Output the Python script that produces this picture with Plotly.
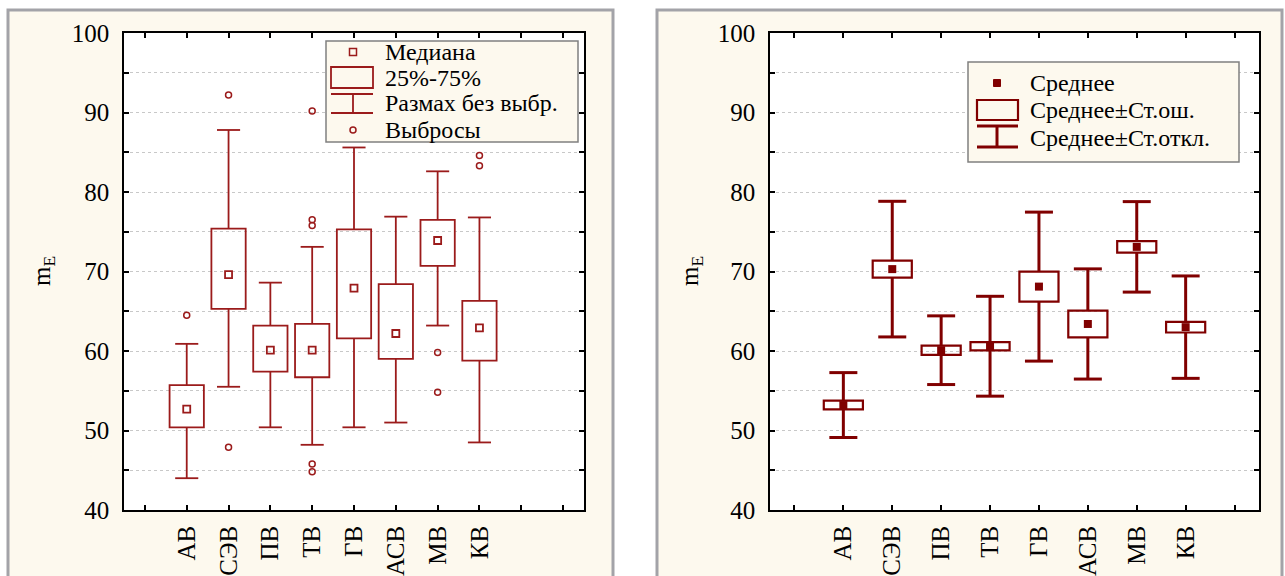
import plotly.graph_objects as go

# ---------------- data ----------------
cats = ['АВ', 'СЭВ', 'ПВ', 'ТВ', 'ГВ', 'АСВ', 'МВ', 'КВ']

# left panel: box plot (median, quartiles, range without outliers, outliers)
whisk_lo = [44.0, 55.5, 50.4, 48.2, 50.4, 51.0, 63.2, 48.5]
q1 = [50.4, 65.3, 57.4, 56.7, 61.6, 59.0, 70.7, 58.8]
median = [52.7, 69.6, 60.1, 60.1, 67.9, 62.2, 73.9, 62.9]
q3 = [55.7, 75.4, 63.2, 63.4, 75.3, 68.4, 76.5, 66.3]
whisk_hi = [60.9, 87.8, 68.6, 73.1, 85.6, 76.9, 82.6, 76.8]
outlier_cat = ['АВ', 'СЭВ', 'СЭВ', 'ТВ', 'ТВ', 'ТВ', 'ТВ', 'ТВ', 'МВ', 'МВ', 'КВ', 'КВ']
outlier_val = [64.5, 92.2, 47.9, 90.2, 76.5, 75.8, 45.8, 44.8, 59.8, 54.8, 84.6, 83.3]

# right panel: mean, standard error, standard deviation
mean = [53.2, 70.3, 60.1, 60.6, 68.1, 63.4, 73.1, 63.0]
se = [0.55, 1.07, 0.58, 0.51, 1.89, 1.68, 0.72, 0.67]
sd = [4.08, 8.53, 4.32, 6.28, 9.37, 6.93, 5.69, 6.44]

y_ticks = [40, 50, 60, 70, 80, 90, 100]

# ---------------- style ----------------
W, H = 1285, 576
RED1 = '#9B1B1B'
RED2 = '#800000'
CREAM = '#FDF9EE'
FONT = 'Liberation Serif, Times New Roman, serif'


def PX(x):
    return x / W


def PY(y):
    return 1 - y / H


xi = list(range(len(cats)))
out_x = [cats.index(c) for c in outlier_cat]


def vsegs(lo, hi):
    xs, ys = [], []
    for i, (a, b) in enumerate(zip(lo, hi)):
        xs += [i, i, None]
        ys += [a, b, None]
    return xs, ys


fig = go.Figure()

# ---- left panel ----
fig.add_trace(go.Bar(x=xi, y=[b - a for a, b in zip(q1, q3)], base=q1, width=0.82,
                     marker=dict(color='rgba(0,0,0,0)', line=dict(color=RED1, width=1.8)),
                     xaxis='x', yaxis='y', hoverinfo='skip'))
wx, wy = vsegs(q3, whisk_hi)
fig.add_trace(go.Scatter(x=wx, y=wy, mode='lines', line=dict(color=RED1, width=1.8),
                         xaxis='x', yaxis='y', hoverinfo='skip'))
wx, wy = vsegs(whisk_lo, q1)
fig.add_trace(go.Scatter(x=wx, y=wy, mode='lines', line=dict(color=RED1, width=1.8),
                         xaxis='x', yaxis='y', hoverinfo='skip'))
fig.add_trace(go.Scatter(x=xi + xi, y=whisk_hi + whisk_lo, mode='markers',
                         marker=dict(symbol='line-ew', size=16.5, line=dict(color=RED1, width=1.8)),
                         xaxis='x', yaxis='y', hoverinfo='skip'))
fig.add_trace(go.Scatter(x=xi, y=median, mode='markers',
                         marker=dict(symbol='square-open', size=7, color=RED1, line=dict(color=RED1, width=1.8)),
                         xaxis='x', yaxis='y'))
fig.add_trace(go.Scatter(x=out_x, y=outlier_val, mode='markers',
                         marker=dict(symbol='circle-open', size=6, color=RED1, line=dict(color=RED1, width=1.5)),
                         xaxis='x', yaxis='y'))

# ---- right panel ----
se_lo = [m - s for m, s in zip(mean, se)]
se_hi = [m + s for m, s in zip(mean, se)]
sd_lo = [m - s for m, s in zip(mean, sd)]
sd_hi = [m + s for m, s in zip(mean, sd)]
fig.add_trace(go.Bar(x=xi, y=[2 * s for s in se], base=se_lo, width=0.8,
                     marker=dict(color='rgba(0,0,0,0)', line=dict(color=RED2, width=2.2)),
                     xaxis='x2', yaxis='y2', hoverinfo='skip'))
wx, wy = vsegs(se_hi, sd_hi)
fig.add_trace(go.Scatter(x=wx, y=wy, mode='lines', line=dict(color=RED2, width=3),
                         xaxis='x2', yaxis='y2', hoverinfo='skip'))
wx, wy = vsegs(sd_lo, se_lo)
fig.add_trace(go.Scatter(x=wx, y=wy, mode='lines', line=dict(color=RED2, width=3),
                         xaxis='x2', yaxis='y2', hoverinfo='skip'))
fig.add_trace(go.Scatter(x=xi + xi, y=sd_hi + sd_lo, mode='markers',
                         marker=dict(symbol='line-ew', size=20, line=dict(color=RED2, width=3)),
                         xaxis='x2', yaxis='y2', hoverinfo='skip'))
fig.add_trace(go.Scatter(x=xi, y=mean, mode='markers',
                         marker=dict(symbol='square', size=8, color=RED2),
                         xaxis='x2', yaxis='y2'))

# ---------------- axes ----------------
tickfont = dict(family=FONT, size=25, color='black')
common_x = dict(ticks='inside', ticklen=5, tickwidth=1.5, tickcolor='black',
                showline=True, linecolor='black', linewidth=1.6, mirror='ticks',
                showgrid=False, zeroline=False, tickangle=-90, tickfont=tickfont,
                tickmode='array', tickvals=xi, ticktext=cats, ticklabelstandoff=4,
                automargin=False)
common_y = dict(range=[40, 100], tickmode='array', tickvals=y_ticks,
                ticks='inside', ticklen=5, tickwidth=1.5, tickcolor='black',
                showline=True, linecolor='black', linewidth=1.6, mirror='ticks',
                showgrid=True, gridcolor='#c8c8c8', griddash='dot', gridwidth=1,
                zeroline=False, tickfont=tickfont, ticklabelstandoff=8, automargin=False,
                minor=dict(dtick=5, tick0=40, ticks='inside', ticklen=5, tickwidth=1.5,
                           tickcolor='black', showgrid=True, gridcolor='#c8c8c8', griddash='dot'))

fig.update_layout(
    width=W, height=H, margin=dict(l=0, r=0, t=0, b=0, pad=0), autosize=False,
    paper_bgcolor='white', plot_bgcolor='white', showlegend=False,
    font=dict(family=FONT, color='black'),
    xaxis=dict(domain=[PX(124), PX(584)], range=[-1.5, 9.5], anchor='y',
               minor=dict(tickmode='array', tickvals=[-1, 8, 9], ticks='inside', ticklen=5,
                          tickwidth=1.5, tickcolor='black', showgrid=False),
               **common_x),
    yaxis=dict(domain=[PY(510), PY(33)], anchor='x', **common_y),
    xaxis2=dict(domain=[PX(770), PX(1259)], range=[-1.5, 8.5], anchor='y2',
                minor=dict(tickmode='array', tickvals=[-1, 8], ticks='inside', ticklen=5,
                           tickwidth=1.5, tickcolor='black', showgrid=False),
                **common_x),
    yaxis2=dict(domain=[PY(510), PY(33)], anchor='x2', **common_y),
)

# ---------------- panels ----------------
shapes = []
for x0, x1 in [(8, 613), (657, 1282)]:
    shapes.append(dict(type='rect', xref='paper', yref='paper', x0=PX(x0), x1=PX(x1),
                       y0=PY(590), y1=PY(10), fillcolor=CREAM,
                       line=dict(color='#a3a3a8', width=3), layer='below'))
for x0, x1 in [(124, 584), (770, 1259)]:
    shapes.append(dict(type='rect', xref='paper', yref='paper', x0=PX(x0), x1=PX(x1),
                       y0=PY(510), y1=PY(33), fillcolor='white', line=dict(width=0), layer='below'))


def prect(x0, y0, x1, y1, color, width, fill='rgba(0,0,0,0)'):
    return dict(type='rect', xref='paper', yref='paper', x0=PX(x0), x1=PX(x1),
                y0=PY(y1), y1=PY(y0), fillcolor=fill, line=dict(color=color, width=width), layer='above')


def pline(x0, y0, x1, y1, color, width):
    return dict(type='line', xref='paper', yref='paper', x0=PX(x0), x1=PX(x1),
                y0=PY(y0), y1=PY(y1), line=dict(color=color, width=width), layer='above')


# left legend
shapes.append(prect(326, 41, 578, 142, '#808080', 1.5, CREAM))
shapes.append(prect(349.5, 48.5, 356.5, 55.5, RED1, 1.5))
shapes.append(prect(331, 67, 373, 88, RED1, 1.8))
shapes.append(pline(331, 94, 373, 94, RED1, 1.8))
shapes.append(pline(331, 113, 373, 113, RED1, 1.8))
shapes.append(pline(353, 94, 353, 113, RED1, 1.8))
shapes.append(dict(type='circle', xref='paper', yref='paper', x0=PX(350), x1=PX(356),
                   y0=PY(133), y1=PY(127), line=dict(color=RED1, width=1.5), layer='above'))
# right legend
shapes.append(prect(968, 62, 1239, 162, '#808080', 1.5, CREAM))
shapes.append(prect(993.5, 79.5, 1000.5, 86.5, RED2, 1, RED2))
shapes.append(prect(977, 100, 1018, 120, RED2, 2.2))
shapes.append(pline(977, 126, 1018, 126, RED2, 3))
shapes.append(pline(977, 147, 1018, 147, RED2, 3))
shapes.append(pline(997, 126, 997, 147, RED2, 3))
fig.update_layout(shapes=shapes)

annotations = []
for txt, y in [('Медиана', 52), ('25%-75%', 78), ('Размах без выбр.', 103), ('Выбросы', 130)]:
    annotations.append(dict(xref='paper', yref='paper', x=PX(383), y=PY(y), text=txt,
                            showarrow=False, xanchor='left', yanchor='middle',
                            font=dict(family=FONT, size=24, color='black')))
for txt, y in [('Среднее', 83), ('Среднее±Ст.ош.', 110), ('Среднее±Ст.откл.', 138)]:
    annotations.append(dict(xref='paper', yref='paper', x=PX(1028), y=PY(y), text=txt,
                            showarrow=False, xanchor='left', yanchor='middle',
                            font=dict(family=FONT, size=24, color='black')))
for x in [43, 691]:
    annotations.append(dict(xref='paper', yref='paper', x=PX(x), y=PY(271), text='m<sub>E</sub>',
                            textangle=-90, showarrow=False, xanchor='center', yanchor='middle',
                            font=dict(family=FONT, size=25, color='black')))
fig.update_layout(annotations=annotations)

fig.write_html('out.html', config={'displayModeBar': False, 'responsive': False},
               post_script="document.body.style.margin='0';document.body.style.overflow='hidden';")
